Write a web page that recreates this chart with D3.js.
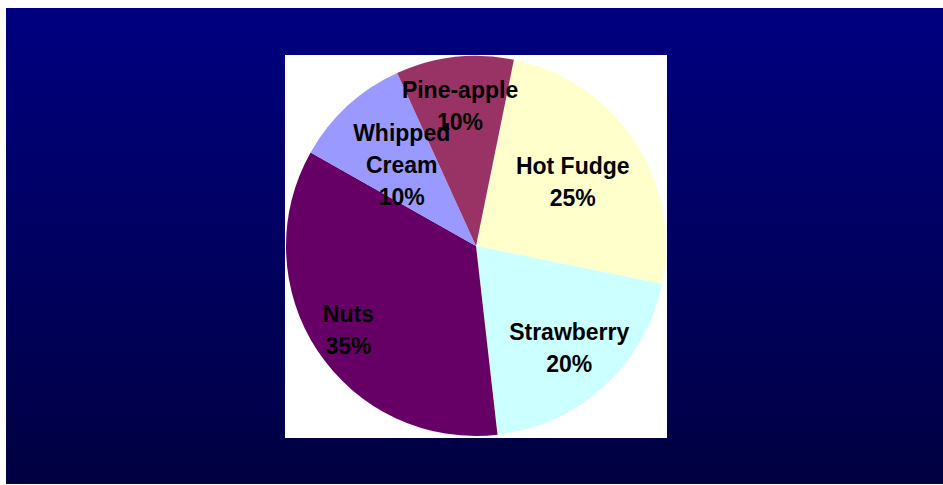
<!DOCTYPE html>
<html>
<head>
<meta charset="utf-8">
<script src="https://cdn.jsdelivr.net/npm/d3@7"></script>
<style>
  body { margin: 0; background: #ffffff; }
  svg { display: block; }
</style>
</head>
<body>
<div id="chart"></div>
<script>
// Chart data
const categories = ["Hot Fudge", "Strawberry", "Nuts", "Whipped Cream", "Pine-apple"]
const shares = [25, 20, 35, 10, 10]
const label_lines = [["Hot Fudge"], ["Strawberry"], ["Nuts"], ["Whipped", "Cream"], ["Pine-apple"]]

// Layout consts
const width = 943
const height = 485
const slice_colors = ["#ffffcc", "#ccffff", "#660066", "#9999ff", "#993366"]
const label_radius = [116, 138, 153, 110, 141]
const start_angle = 11.5 * Math.PI / 180
const cx = 476, cy = 246, radius = 190
const line_height = 32

var svg = d3.select("#chart").append("svg")
    .attr("width", width)
    .attr("height", height)

var defs = svg.append("defs")
var grad = defs.append("linearGradient")
    .attr("id", "bg")
    .attr("x1", 0).attr("y1", 0)
    .attr("x2", 0).attr("y2", 1)
grad.append("stop").attr("offset", "0%").attr("stop-color", "#000080")
grad.append("stop").attr("offset", "100%").attr("stop-color", "#000042")

svg.append("rect")
    .attr("x", 6).attr("y", 8)
    .attr("width", width - 6).attr("height", height - 9)
    .attr("fill", "url(#bg)")

// white plot area
svg.append("rect")
    .attr("x", 285).attr("y", 55)
    .attr("width", 382).attr("height", 383)
    .attr("fill", "#ffffff")

var pie = d3.pie()
    .sort(null)
    .value(d => d)
    .startAngle(start_angle)
    .endAngle(start_angle + 2 * Math.PI)

var arcs = pie(shares)
var arc = d3.arc().innerRadius(0).outerRadius(radius)

var g = svg.append("g").attr("transform", "translate(" + cx + "," + cy + ")")

g.selectAll("path.slice")
    .data(arcs)
    .enter().append("path")
    .attr("class", "slice")
    .attr("fill", (d, i) => slice_colors[i])
    .attr("d", arc)

// labels
arcs.forEach((d, i) => {
    let mid = (d.startAngle + d.endAngle) / 2
    let r = label_radius[i]
    let x = Math.sin(mid) * r
    let y = -Math.cos(mid) * r
    let lines = label_lines[i].concat([d3.format(".0f")(shares[i]) + "%"])
    let top = y - (lines.length - 1) * line_height / 2
    let t = g.append("text")
        .attr("text-anchor", "middle")
        .attr("font-family", "Liberation Sans, Arial, sans-serif")
        .attr("font-weight", "bold")
        .attr("font-size", 23)
        .attr("fill", "#000000")
    lines.forEach((ln, j) => {
        t.append("tspan")
            .attr("x", x)
            .attr("y", top + j * line_height)
            .attr("dy", "0.35em")
            .text(ln)
    })
})
</script>
</body>
</html>
